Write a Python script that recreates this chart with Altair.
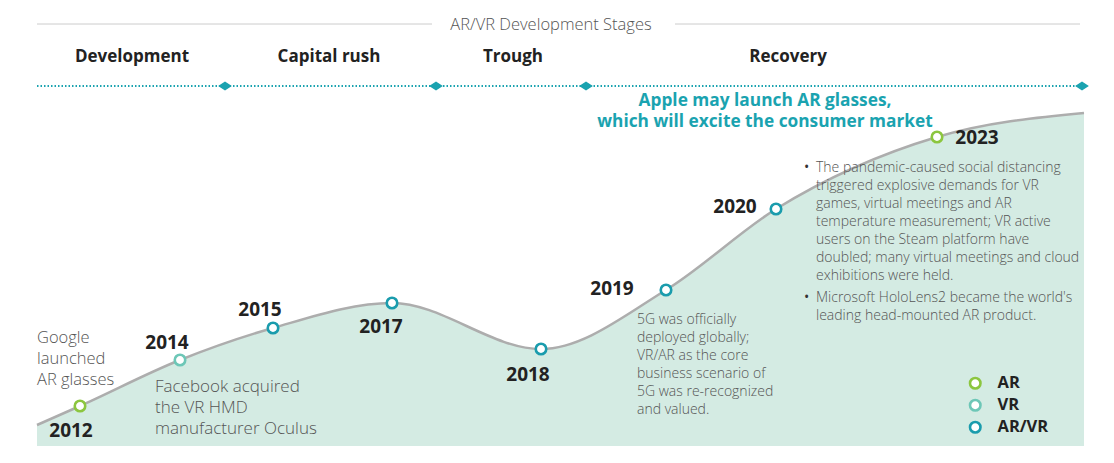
import altair as alt
import pandas as pd

# ---------------- data ----------------
# milestones on the development curve (timeline position, adoption level)
years = ["2012", "2014", "2015", "2017", "2018", "2019", "2020", "2023"]
kinds = ["AR", "VR", "AR/VR", "AR/VR", "AR/VR", "AR/VR", "AR/VR", "AR"]
ms_pos = [43, 143, 236, 355, 504, 629, 739, 900]
ms_level = [40, 86, 118, 143, 97, 156, 237, 309]

# curve ends
curve_start_pos, curve_start_level = 0, 21
curve_end_pos, curve_end_level = 1047, 333

# year label anchors
year_label_pos = [34, 130, 223, 344, 491, 575, 698, 940]
year_label_level = [15, 103, 136, 119, 71, 157, 239, 308]

# development stages
stage_names = ["Development", "Capital rush", "Trough", "Recovery"]
stage_center = [95, 292, 476, 751]
stage_bounds = [188, 399, 549, 1045]

legend_kinds = ["AR", "VR", "AR/VR"]
legend_colors = ["#8cc63f", "#6dc7b7", "#1a9cad"]

title_text = "AR/VR Development Stages"

google_note = "Google\nlaunched\nAR glasses"
facebook_note = "Facebook acquired\nthe VR HMD\nmanufacturer Oculus"
fiveg_note = ("5G was officially\ndeployed globally;\nVR/AR as the core\n"
              "business scenario of\n5G was re-recognized\nand valued.")
bullet1 = ("The pandemic-caused social distancing\ntriggered explosive demands for VR\n"
           "games, virtual meetings and AR\ntemperature measurement; VR active\n"
           "users on the Steam platform have\ndoubled; many virtual meetings and cloud\n"
           "exhibitions were held.")
bullet2 = "Microsoft HoloLens2 became the world's\nleading head-mounted AR product."
apple_note = "Apple may launch AR glasses,\nwhich will excite the consumer market"

FONT = "Open Sans"

# ---------------- scales ----------------
X = alt.X("pos:Q", scale=alt.Scale(domain=[-29, 1069], nice=False, zero=False), axis=None)
Y = alt.Y("level:Q", scale=alt.Scale(domain=[-9, 438], nice=False, zero=False), axis=None)

curve_df = pd.DataFrame({
    "pos": [curve_start_pos] + ms_pos + [curve_end_pos],
    "level": [curve_start_level] + ms_level + [curve_end_level],
})
ms_df = pd.DataFrame({"year": years, "kind": kinds, "pos": ms_pos, "level": ms_level})
year_df = pd.DataFrame({"text": years, "pos": year_label_pos, "level": year_label_level})

area = alt.Chart(curve_df).mark_area(interpolate="monotone", color="#d4ebe3").encode(
    x=X, y=Y, y2=alt.datum(0))
line = alt.Chart(curve_df).mark_line(interpolate="monotone", color="#adadad", strokeWidth=2.5).encode(
    x=X, y=Y)

points = alt.Chart(ms_df).mark_point(
    shape="circle", filled=False, fill="white", fillOpacity=1, opacity=1,
    size=110, strokeWidth=2.6
).encode(
    x=X, y=Y,
    color=alt.Color("kind:N",
                    scale=alt.Scale(domain=legend_kinds, range=legend_colors),
                    legend=alt.Legend(title=None, orient="none", legendX=959, legendY=367,
                                      labelFont=FONT, labelFontSize=16.5, labelFontWeight="bold",
                                      labelColor="#222222", symbolSize=110, symbolStrokeWidth=2.6,
                                      symbolType="circle", rowPadding=0, labelOffset=14,
                                      padding=0, symbolFillColor="white")),
)

year_text = alt.Chart(year_df).mark_text(
    font=FONT, fontSize=19, fontWeight="bold", color="#222222", align="center", baseline="middle"
).encode(x=X, y=Y, text="text:N")

# header
header_rules = pd.DataFrame({"pos": [0, 638], "pos2": [395, 1043], "level": [422, 422]})
hdr_rule = alt.Chart(header_rules).mark_rule(color="#cccccc", strokeWidth=1).encode(
    x=X, x2="pos2:Q", y=Y)
hdr_text = alt.Chart(pd.DataFrame({"text": [title_text], "pos": [514], "level": [421]})).mark_text(
    font=FONT, fontSize=16.5, fontWeight=300, color="#555555", align="center", baseline="middle"
).encode(x=X, y=Y, text="text:N")

stage_df = pd.DataFrame({"text": stage_names, "pos": stage_center, "level": [389] * 4})
stage_text = alt.Chart(stage_df).mark_text(
    font=FONT, fontSize=17, fontWeight="bold", color="#222222", align="center", baseline="middle"
).encode(x=X, y=Y, text="text:N")

timeline = alt.Chart(pd.DataFrame({"pos": [0], "pos2": [1045], "level": [360]})).mark_rule(
    color="#1aa3b0", strokeWidth=2, strokeDash=[1.5, 2]
).encode(x=X, x2="pos2:Q", y=Y)
diamonds = alt.Chart(pd.DataFrame({"pos": stage_bounds, "level": [360] * 4})).mark_point(
    shape="M-1,0L0,-0.65L1,0L0,0.65Z", filled=True, color="#1aa3b0", opacity=1, size=190
).encode(x=X, y=Y)

def note(text, pos, level, size, lh, align="left", color="#555555", weight=300):
    df = pd.DataFrame({"text": [text], "pos": [pos], "level": [level]})
    return alt.Chart(df).mark_text(
        font=FONT, fontSize=size, fontWeight=weight, color=color, align=align,
        baseline="middle", lineBreak="\n", lineHeight=lh
    ).encode(x=X, y=Y, text="text:N")

notes = [
    note(google_note, 0, 108, 16.5, 21),
    note(facebook_note, 118, 59, 17, 21),
    note(fiveg_note, 600, 126, 14, 18),
    note(bullet1, 779, 278, 14, 18),
    note(bullet2, 779, 148, 14, 18),
    note("•\n", 767, 278, 14, 18, color="#333333", weight=400),
    note("•\n", 767, 148, 14, 18, color="#333333", weight=400),
    note(apple_note, 728, 345, 17.3, 21, align="center", color="#1aa3b0", weight="bold"),
]

chart = alt.layer(
    area, line, hdr_rule, hdr_text, stage_text, timeline, diamonds,
    *notes, year_text, points
).properties(
    width=1098, height=447, padding=0,
    autosize=alt.AutoSizeParams(type="fit", contains="padding"),
).configure_view(stroke=None)

chart.save("out.html", embed_options={"renderer": "svg", "actions": False})
